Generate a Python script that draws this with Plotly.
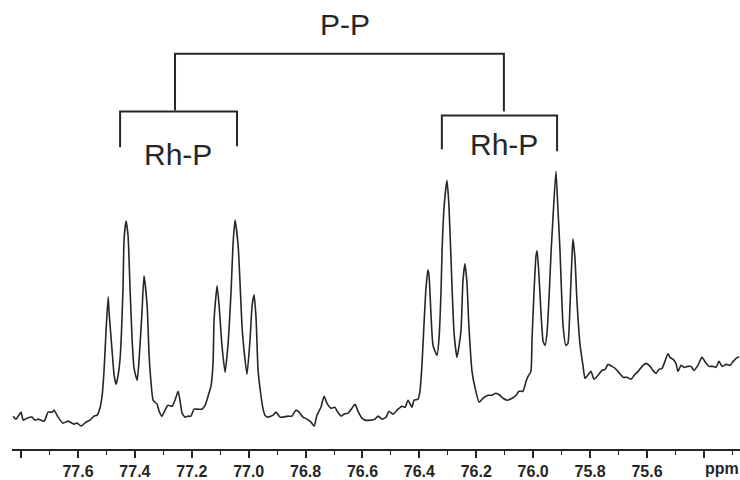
import plotly.graph_objects as go

# 31P{1H} NMR trace: chemical shift (ppm) and intensity (a.u.)
shift_ppm = [
    77.828, 77.818, 77.800, 77.793, 77.779, 77.762, 77.751, 77.740, 77.719, 77.705,
    77.691, 77.684, 77.670, 77.653, 77.635, 77.614, 77.603, 77.589, 77.572, 77.558,
    77.544, 77.533, 77.523, 77.515, 77.508, 77.501, 77.494, 77.491, 77.480, 77.473,
    77.466, 77.459, 77.452, 77.442, 77.438, 77.431, 77.424, 77.417, 77.410, 77.403,
    77.392, 77.385, 77.375, 77.368, 77.357, 77.350, 77.343, 77.336, 77.322, 77.315,
    77.305, 77.294, 77.284, 77.269, 77.259, 77.248, 77.241, 77.234, 77.224, 77.213,
    77.203, 77.192, 77.178, 77.164, 77.153, 77.143, 77.132, 77.125, 77.122, 77.115,
    77.111, 77.104, 77.094, 77.083, 77.073, 77.062, 77.055, 77.048, 77.037, 77.023,
    77.016, 77.006, 76.995, 76.988, 76.981, 76.974, 76.967, 76.957, 76.950, 76.943,
    76.932, 76.914, 76.904, 76.890, 76.879, 76.862, 76.848, 76.834, 76.823, 76.809,
    76.795, 76.781, 76.770, 76.760, 76.746, 76.735, 76.725, 76.711, 76.697, 76.689,
    76.675, 76.665, 76.651, 76.637, 76.626, 76.616, 76.602, 76.591, 76.573, 76.556,
    76.545, 76.531, 76.517, 76.507, 76.493, 76.475, 76.461, 76.450, 76.440, 76.426,
    76.419, 76.405, 76.398, 76.391, 76.384, 76.377, 76.370, 76.366, 76.359, 76.352,
    76.338, 76.331, 76.324, 76.320, 76.313, 76.303, 76.296, 76.285, 76.278, 76.268,
    76.254, 76.247, 76.240, 76.233, 76.226, 76.215, 76.204, 76.190, 76.176, 76.159,
    76.145, 76.131, 76.117, 76.106, 76.092, 76.074, 76.060, 76.050, 76.036, 76.025,
    76.018, 76.008, 76.004, 75.997, 75.990, 75.986, 75.979, 75.972, 75.965, 75.958,
    75.951, 75.944, 75.937, 75.930, 75.920, 75.913, 75.906, 75.895, 75.885, 75.878,
    75.870, 75.863, 75.860, 75.853, 75.846, 75.835, 75.825, 75.818, 75.811, 75.797,
    75.786, 75.772, 75.758, 75.747, 75.737, 75.723, 75.712, 75.702, 75.684, 75.670,
    75.656, 75.645, 75.631, 75.617, 75.603, 75.589, 75.579, 75.568, 75.558, 75.547,
    75.537, 75.526, 75.519, 75.508, 75.498, 75.491, 75.480, 75.470, 75.456, 75.445,
    75.435, 75.421, 75.407, 75.392, 75.382, 75.368, 75.357, 75.347, 75.336, 75.322,
    75.308, 75.297, 75.283, 75.276,
]
intensity = [
    33, 30, 37, 29, 31, 32, 29, 30, 28, 37,
    37, 39, 32, 26, 28, 25, 26, 23, 27, 29,
    33, 34, 41, 54, 81, 121, 153, 138, 98, 74,
    65, 74, 91, 159, 211, 229, 214, 161, 111, 81,
    69, 91, 138, 174, 144, 94, 66, 49, 45, 38,
    33, 39, 44, 43, 49, 58, 48, 36, 32, 33,
    33, 40, 40, 40, 44, 53, 64, 88, 128, 154,
    164, 144, 104, 77, 104, 158, 206, 230, 204, 121,
    98, 75, 111, 144, 155, 131, 79, 54, 41, 34,
    32, 34, 37, 32, 32, 33, 33, 39, 37, 32,
    30, 27, 23, 34, 42, 53, 46, 41, 42, 38,
    33, 35, 36, 41, 45, 38, 31, 29, 29, 30,
    33, 30, 32, 38, 35, 40, 43, 42, 49, 42,
    49, 50, 58, 84, 124, 161, 180, 174, 134, 104,
    94, 111, 158, 201, 244, 270, 244, 161, 116, 92,
    118, 168, 186, 168, 124, 78, 61, 47, 51, 54,
    54, 56, 54, 51, 49, 51, 54, 58, 58, 68,
    73, 78, 111, 158, 194, 199, 171, 134, 108, 104,
    118, 154, 198, 234, 279, 241, 201, 124, 104, 106,
    148, 198, 211, 191, 148, 104, 84, 71, 73, 78,
    70, 74, 79, 80, 85, 83, 81, 78, 72, 72,
    70, 74, 78, 83, 86, 83, 79, 76, 80, 81,
    88, 96, 92, 90, 86, 78, 84, 82, 83, 83,
    79, 84, 92, 86, 83, 83, 82, 88, 83, 85,
    84, 88, 92, 92,
]

# Coupling brackets: P-P splitting above the two Rh-P doublets
pp_legs = [77.259, 76.103]
pp_top = 397
pp_foot = [340, 339]
rhp_left_legs = [77.452, 77.041]
rhp_left_top = 339
rhp_left_foot = [303, 304]
rhp_right_legs = [76.321, 75.916]
rhp_right_top = 335
rhp_right_foot = [301, 299]

# Axis ticks
major_ticks = [77.8, 77.6, 77.4, 77.2, 77.0, 76.8, 76.6, 76.4, 76.2, 76.0, 75.8, 75.6, 75.4]
major_labels = ["", "77.6", "77.4", "77.2", "77.0", "76.8", "76.6", "76.4", "76.2",
                "76.0", "75.8", "75.6", ""]
minor_ticks = [77.7, 77.5, 77.3, 77.1, 76.9, 76.7, 76.5, 76.3, 76.1, 75.9, 75.7, 75.5, 75.3]

ink = "#262626"
font_family = "Liberation Sans, Arial, sans-serif"

fig = go.Figure()
fig.add_trace(go.Scatter(
    x=shift_ppm, y=intensity, mode="lines",
    line=dict(color=ink, width=1.6, shape="spline", smoothing=0.5),
    hoverinfo="skip", showlegend=False,
))

def bracket(legs, top, foot):
    path = (f"M {legs[0]},{foot[0]} L {legs[0]},{top} "
            f"L {legs[1]},{top} L {legs[1]},{foot[1]}")
    fig.add_shape(type="path", path=path, xref="x", yref="y",
                  line=dict(color=ink, width=2))

bracket(pp_legs, pp_top, pp_foot)
bracket(rhp_left_legs, rhp_left_top, rhp_left_foot)
bracket(rhp_right_legs, rhp_right_top, rhp_right_foot)

labels = [
    ("P-P", 76.660, 426),
    ("Rh-P", 77.248, 296),
    ("Rh-P", 76.102, 306),
]
for text, x, y in labels:
    fig.add_annotation(x=x, y=y, xref="x", yref="y", text=text, showarrow=False,
                       xanchor="center", yanchor="middle",
                       font=dict(family=font_family, size=30, color=ink))

fig.add_annotation(x=75.336, y=-0.044, xref="x", yref="paper", text="<b>ppm</b>",
                   showarrow=False, xanchor="center", yanchor="middle",
                   font=dict(family=font_family, size=16, color=ink))

fig.update_layout(
    width=740, height=480,
    margin=dict(l=12, r=0, t=0, b=29),
    paper_bgcolor="white", plot_bgcolor="white",
    xaxis=dict(
        range=[77.832, 75.273], showgrid=False, zeroline=False,
        showline=True, linecolor=ink, linewidth=1.5,
        tickmode="array", tickvals=major_ticks, ticktext=major_labels,
        ticks="outside", ticklen=7, tickwidth=1.5, tickcolor=ink,
        tickfont=dict(family=font_family, size=16, color=ink, weight="bold"),
        minor=dict(tickmode="array", tickvals=minor_ticks,
                   ticks="outside", ticklen=4, tickwidth=1.2, tickcolor=ink),
    ),
    yaxis=dict(range=[0, 451], visible=False, fixedrange=True),
)

fig.write_html("out.html")
